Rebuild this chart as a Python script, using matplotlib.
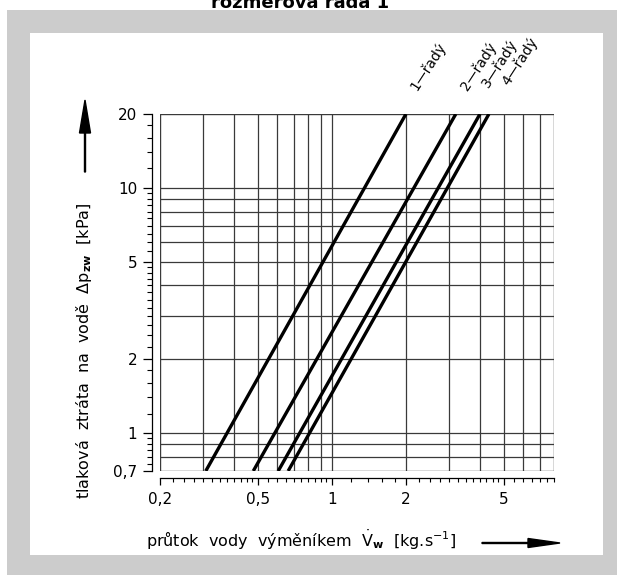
import numpy as np
import matplotlib
matplotlib.use('Agg')
import matplotlib.pyplot as plt
from matplotlib.patches import Rectangle, FancyArrow
from matplotlib.transforms import IdentityTransform

# průtok vody [kg/s] where each line meets the bottom (0,7 kPa) and top (20 kPa) edge
dp_ends = [0.7, 20]
flow_1 = [0.307, 2.0]
flow_2 = [0.479, 3.19]
flow_3 = [0.605, 4.0]
flow_4 = [0.664, 4.35]
row_labels = ['1—řadý', '2—řadý', '3—řadý', '4—řadý']

x_major = [0.2, 0.5, 1, 2, 5]
x_major_lbl = ['0,2', '0,5', '1', '2', '5']
y_major = [0.7, 1, 2, 5, 10, 20]
y_major_lbl = ['0,7', '1', '2', '5', '10', '20']
x_grid = [0.3, 0.4, 0.5, 0.6, 0.7, 0.8, 0.9, 1, 2, 3, 4, 5, 6, 7]
y_grid = [0.8, 0.9, 1, 2, 3, 4, 5, 6, 7, 8, 9, 10]

W, H = 621, 575
fig = plt.figure(figsize=(W / 100, H / 100), dpi=100)
fig.patch.set_facecolor('white')

# grey frame + white panel
fig.add_artist(Rectangle((7 / W, 0), 610 / W, 565 / H, transform=fig.transFigure,
                         facecolor='#cccccc', edgecolor='none', zorder=-10))
fig.add_artist(Rectangle((30 / W, 20 / H), 573 / W, 522 / H, transform=fig.transFigure,
                         facecolor='white', edgecolor='none', zorder=-9))

fig.text(300 / W, 1 - 12 / H, 'rozměrová řada 1', ha='center', va='bottom',
         fontsize=13, fontweight='bold')

ax = fig.add_axes([160 / W, (H - 471) / H, 394 / W, 357 / H])
ax.set_facecolor('none')
ax.set_xscale('log')
ax.set_yscale('log')
ax.set_xlim(0.2, 8)
ax.set_ylim(0.7, 20)

for xv in x_grid:
    ax.axvline(xv, color='#3a3a3a', lw=0.9, zorder=1)
for yv in y_grid:
    ax.axhline(yv, color='#3a3a3a', lw=0.9, zorder=1)
ax.add_patch(Rectangle((0, 0), 1, 1, transform=ax.transAxes, fill=False,
                       edgecolor='#3a3a3a', lw=1.0, zorder=2))

for fl in [flow_1, flow_2, flow_3, flow_4]:
    ax.plot(fl, dp_ends, color='black', lw=2.4, zorder=3, solid_capstyle='butt')

# label offsets from the top end of each line, pixels
lbl_off = [(14, 21), (14, 21), (11, 24), (22, 26)]
for fl, lbl, off in zip([flow_1, flow_2, flow_3, flow_4], row_labels, lbl_off):
    ax.annotate(lbl, xy=(fl[1], dp_ends[1]), xytext=off, textcoords='offset pixels',
                rotation=57, rotation_mode='anchor', ha='left', va='bottom',
                fontsize=10, annotation_clip=False)

for s in ['top', 'right']:
    ax.spines[s].set_visible(False)
ax.spines['left'].set_position(('outward', 5.8))
ax.spines['bottom'].set_position(('outward', 5))
ax.spines['left'].set_linewidth(0.9)
ax.spines['bottom'].set_linewidth(0.9)

ax.set_xticks(x_major)
ax.set_xticklabels(x_major_lbl)
ax.set_yticks(y_major)
ax.set_yticklabels(y_major_lbl)

x_minor = list(np.arange(0.225, 0.5, 0.025)) + list(np.arange(0.55, 1.0, 0.05)) + \
    list(np.arange(1.2, 2.0, 0.2)) + list(np.arange(2.25, 5.0, 0.25)) + list(np.arange(5.5, 8.01, 0.5))
y_minor = list(np.arange(0.75, 1.0, 0.05)) + list(np.arange(1.2, 2.0, 0.2)) + \
    list(np.arange(2.25, 5.0, 0.25)) + list(np.arange(5.5, 10.0, 0.5)) + list(np.arange(12, 20, 2))
ax.set_xticks(x_minor, minor=True)
ax.set_yticks(y_minor, minor=True)
ax.xaxis.set_minor_formatter(plt.NullFormatter())
ax.yaxis.set_minor_formatter(plt.NullFormatter())

ax.tick_params(axis='y', which='major', direction='out', length=6.5, width=0.9, labelsize=11, pad=4)
ax.tick_params(axis='y', which='minor', direction='out', length=3.6, width=0.8)
ax.tick_params(axis='x', which='major', direction='out', length=5, width=0.9, labelsize=11, pad=5)
ax.tick_params(axis='x', which='minor', direction='out', length=3, width=0.8)

fig.text(84 / W, 1 - 351 / H, 'tlaková  ztráta  na  vodě  Δp$_{\\mathbf{zw}}$  [kPa]',
         rotation=90, ha='center', va='center', fontsize=11.5)
fig.text(146 / W, 1 - 540 / H,
         'průtok  vody  výměníkem  $\\dot{\\mathrm{V}}_{\\mathbf{w}}$  [kg.s$^{-1}$]',
         ha='left', va='center', fontsize=11.5)

# arrows (pixel coordinates, origin bottom-left)
fig.add_artist(FancyArrow(85, H - 172, 0, 72, width=1, head_width=11, head_length=33,
                          length_includes_head=True, color='black', transform=IdentityTransform()))
fig.add_artist(FancyArrow(482, H - 543, 78, 0, width=1, head_width=9, head_length=32,
                          length_includes_head=True, color='black', transform=IdentityTransform()))

fig.savefig('out.png', dpi=100)
